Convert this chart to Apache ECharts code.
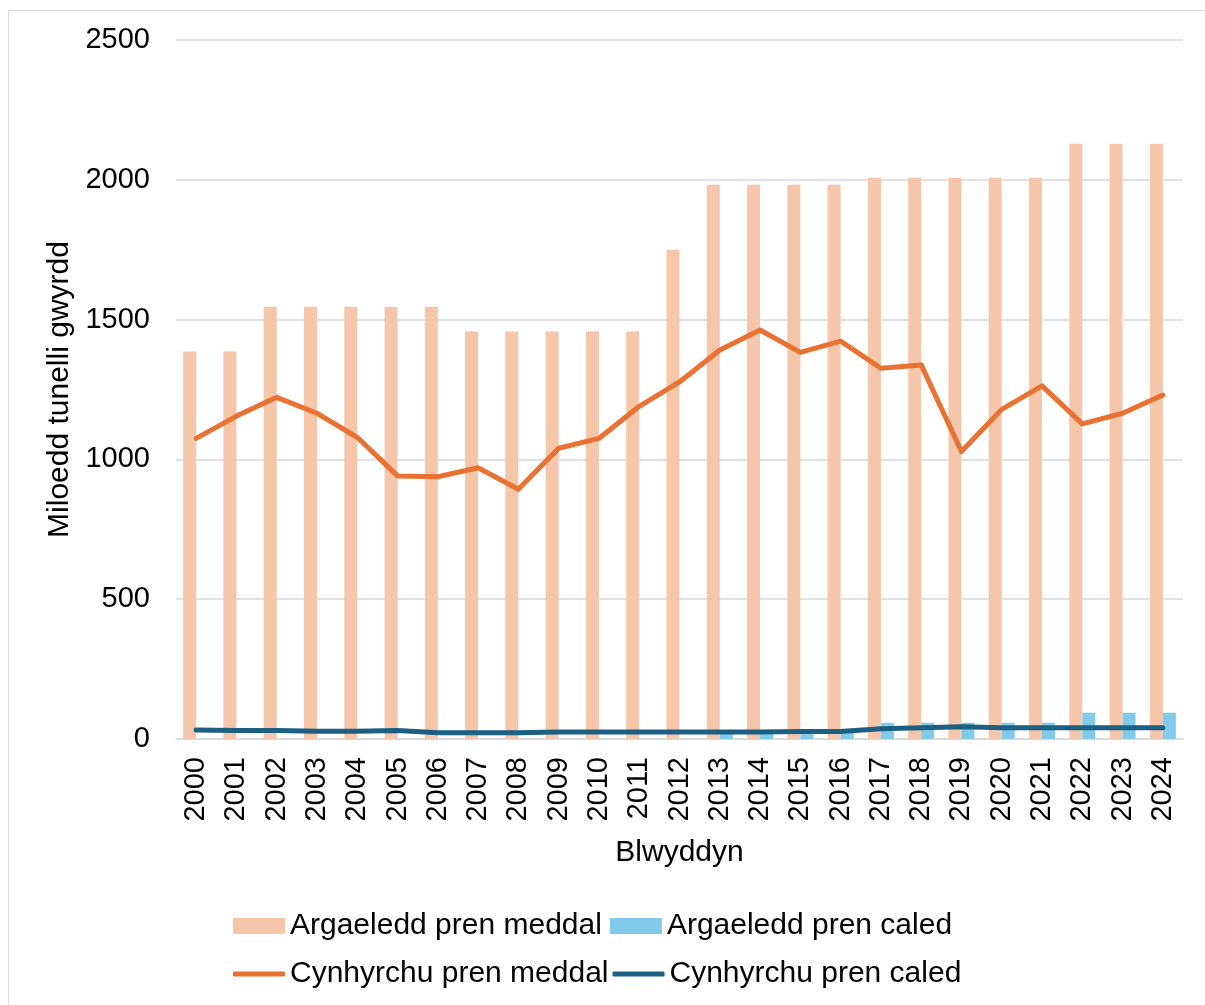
<!DOCTYPE html>
<html>
<head>
<meta charset="utf-8">
<script src="https://cdn.jsdelivr.net/npm/echarts@6/dist/echarts.min.js"></script>
<style>
  html, body { margin: 0; padding: 0; background: #fff; }
  #frame { position: absolute; left: 8px; top: 10px; width: 1210px; height: 1010px; border: 1px solid #d9d9d9; }
  #main { position: absolute; left: 0; top: 0; width: 1205px; height: 1005px; }
</style>
</head>
<body>
<div id="frame"></div>
<div id="main"></div>
<script>
  // blynyddoedd
  var years = ['2000','2001','2002','2003','2004','2005','2006','2007','2008','2009','2010','2011','2012',
               '2013','2014','2015','2016','2017','2018','2019','2020','2021','2022','2023','2024'];
  // argaeledd (bars)
  var softAvail = [1386,1386,1546,1546,1546,1546,1546,1457,1457,1457,1457,1457,1750,
                   1982,1982,1982,1982,2007,2007,2007,2007,2007,2129,2129,2129];
  var hardAvail = [0,0,0,0,0,0,0,0,0,0,0,0,0,
                   28,28,28,28,58,58,58,58,58,94,94,94];
  // cynhyrchu (lines)
  var softProd = [1075,1155,1222,1165,1079,941,938,970,893,1040,1075,1190,1277,
                  1391,1463,1383,1423,1326,1338,1028,1179,1263,1127,1165,1230];
  var hardProd = [32,30,30,28,28,30,22,22,22,25,25,25,25,
                  25,25,27,27,37,40,44,40,40,40,40,40];
  var yTicks = [0, 500, 1000, 1500, 2000, 2500];

  var font = 'Liberation Sans, Arial, sans-serif';
  var myChart = echarts.init(document.getElementById('main'));
  var option = {
    backgroundColor: 'transparent',
    animation: false,
    grid: { left: 176, right: 22, top: 40, bottom: 266, containLabel: false },
    legend: [
      {
        data: ['Argaeledd pren meddal', 'Argaeledd pren caled'],
        left: 228, top: 906,
        icon: 'rect',
        itemWidth: 52, itemHeight: 16, itemGap: 8,
        textStyle: { fontFamily: font, fontSize: 30, color: '#000' }
      },
      {
        data: ['Cynhyrchu pren meddal', 'Cynhyrchu pren caled'],
        left: 228, top: 954,
        icon: 'roundRect',
        itemWidth: 52, itemHeight: 5, itemGap: 4,
        textStyle: { fontFamily: font, fontSize: 30, color: '#000' }
      }
    ],
    xAxis: {
      type: 'category',
      data: years,
      name: 'Blwyddyn',
      nameLocation: 'middle',
      nameGap: 99,
      nameTextStyle: { fontFamily: font, fontSize: 30, color: '#000' },
      axisLine: { lineStyle: { color: '#d9d9d9', width: 1.5 } },
      axisTick: { show: false },
      axisLabel: { rotate: 90, margin: 18, fontFamily: font, fontSize: 29, color: '#000', interval: 0 }
    },
    yAxis: {
      type: 'value',
      min: yTicks[0],
      max: yTicks[yTicks.length - 1],
      interval: 500,
      name: 'Miloedd tunelli gwyrdd',
      nameLocation: 'middle',
      nameGap: 92,
      nameTextStyle: { fontFamily: font, fontSize: 30, color: '#000' },
      axisLine: { show: false },
      axisTick: { show: false },
      splitLine: { lineStyle: { color: '#d9d9d9', width: 1.5 } },
      axisLabel: {
        margin: 26, fontFamily: font, fontSize: 29, color: '#000',
        formatter: function (v) { return String(v); }
      }
    },
    series: [
      {
        name: 'Argaeledd pren meddal',
        type: 'bar',
        data: softAvail,
        barWidth: 13,
        barGap: '0%',
        itemStyle: { color: '#F6C6AA' }
      },
      {
        name: 'Argaeledd pren caled',
        type: 'bar',
        data: hardAvail,
        barWidth: 13,
        barGap: '0%',
        itemStyle: { color: '#83CBEB' }
      },
      {
        name: 'Cynhyrchu pren meddal',
        type: 'line',
        data: softProd,
        symbol: 'none',
        lineStyle: { color: '#E97132', width: 5, cap: 'round', join: 'round' },
        itemStyle: { color: '#E97132' }
      },
      {
        name: 'Cynhyrchu pren caled',
        type: 'line',
        data: hardProd,
        symbol: 'none',
        lineStyle: { color: '#1B5F82', width: 5, cap: 'round', join: 'round' },
        itemStyle: { color: '#1B5F82' }
      }
    ]
  };
  myChart.setOption(option);
</script>
</body>
</html>
